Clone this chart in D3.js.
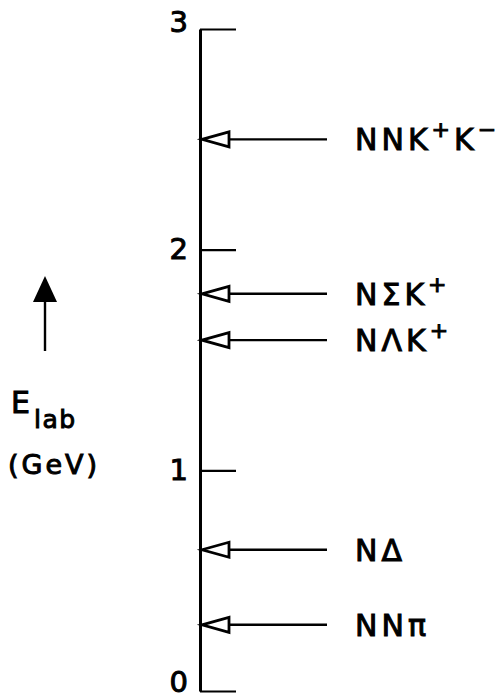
<!DOCTYPE html>
<html>
<head>
<meta charset="utf-8">
<script src="https://cdn.jsdelivr.net/npm/d3@7"></script>
<style>
  html, body { margin: 0; padding: 0; background: #fff; }
  svg { display: block; }
  text { font-family: "DejaVu Sans", sans-serif; fill: #000; }
</style>
</head>
<body>
<script>
// Reaction thresholds in NN collisions (lab kinetic energy, GeV)
const channels   = ["NNπ", "NΔ", "NΛK^+", "NΣK^+", "NNK^+K^−"];
const thresholds = [0.30, 0.64, 1.59, 1.80, 2.50];
const tickValues = [0, 1, 2, 3];
const axisTitle  = "E";
const axisSub    = "lab";
const axisUnit   = "(GeV)";

const W = 501, H = 699;
const axisX = 200;

const svg = d3.select("body").append("svg")
  .attr("width", W).attr("height", H);

svg.append("rect").attr("width", W).attr("height", H).attr("fill", "#fff");

const y = d3.scaleLinear().domain([0, 3]).range([691, 29]);

// Vertical energy axis: ticks point right, numbers on the left
const axis = d3.axisLeft(y)
  .tickValues(tickValues)
  .tickFormat(d3.format("d"))
  .tickSizeInner(-36)
  .tickSizeOuter(0)
  .tickPadding(12);

const gAxis = svg.append("g")
  .attr("transform", `translate(${axisX},0)`)
  .call(axis);

gAxis.select(".domain").attr("stroke", "#000").attr("stroke-width", 3);
gAxis.selectAll(".tick line").attr("stroke", "#000").attr("stroke-width", 2.2);
gAxis.selectAll(".tick text")
  .attr("font-size", 29)
  .attr("font-family", "DejaVu Sans, sans-serif")
  .attr("fill", "#000")
  .attr("stroke", "#000")
  .attr("stroke-width", 1)
  // top number sits a little above its tick, bottom one stays inside the frame
  .attr("dy", d => d === 3 ? "0.1em" : d === 0 ? "0em" : "0.32em");

// Threshold arrows: open triangle head touching the axis, shaft to the right
const rows = channels.map((c, i) => ({ label: c, e: thresholds[i] }));

const arrows = svg.append("g").selectAll("g")
  .data(rows).join("g")
  .attr("transform", d => `translate(0,${y(d.e)})`);

const tipX = axisX + 2, baseX = axisX + 29, shaftEnd = 327, halfH = 7.5;

arrows.append("line")
  .attr("x1", baseX).attr("x2", shaftEnd)
  .attr("y1", 0).attr("y2", 0)
  .attr("stroke", "#000").attr("stroke-width", 2.4);

arrows.append("path")
  .attr("d", `M${tipX},0L${baseX},${-halfH}L${baseX},${halfH}Z`)
  .attr("fill", "#fff")
  .attr("stroke", "#000")
  .attr("stroke-width", 2.8)
  .attr("stroke-linejoin", "miter");

// Channel labels with superscript charges
const labels = arrows.append("text")
  .attr("x", 355)
  .attr("y", 11)
  .attr("font-size", 30)
  .attr("letter-spacing", 4)
  .attr("stroke", "#000")
  .attr("stroke-width", 1);

const supShift = 13;
labels.each(function(d) {
  const t = d3.select(this);
  const parts = d.label.split(/(\^.)/).filter(s => s.length);
  let back = 0;
  parts.forEach(p => {
    if (p[0] === "^") {
      t.append("tspan")
        .attr("font-size", 22)
        .attr("dy", -supShift + back)
        .text(p[1]);
      back = supShift;
    } else {
      t.append("tspan").attr("dy", back).text(p);
      back = 0;
    }
  });
});

// Upward arrow and axis title on the left
const up = svg.append("g");
up.append("line")
  .attr("x1", 45).attr("x2", 45)
  .attr("y1", 298).attr("y2", 351)
  .attr("stroke", "#000").attr("stroke-width", 2.4);
up.append("path")
  .attr("d", "M45,276L57,302L33,302Z")
  .attr("fill", "#000");

const title = svg.append("text")
  .attr("x", 11).attr("y", 413)
  .attr("font-size", 30)
  .attr("stroke", "#000").attr("stroke-width", 1);
title.append("tspan").text(axisTitle);
title.append("tspan")
  .attr("dx", 4).attr("dy", 15)
  .attr("font-size", 25)
  .attr("letter-spacing", 1.5)
  .text(axisSub);

svg.append("text")
  .attr("x", 8).attr("y", 474)
  .attr("font-size", 27)
  .attr("letter-spacing", 3)
  .attr("stroke", "#000").attr("stroke-width", 1)
  .text(axisUnit);
</script>
</body>
</html>
